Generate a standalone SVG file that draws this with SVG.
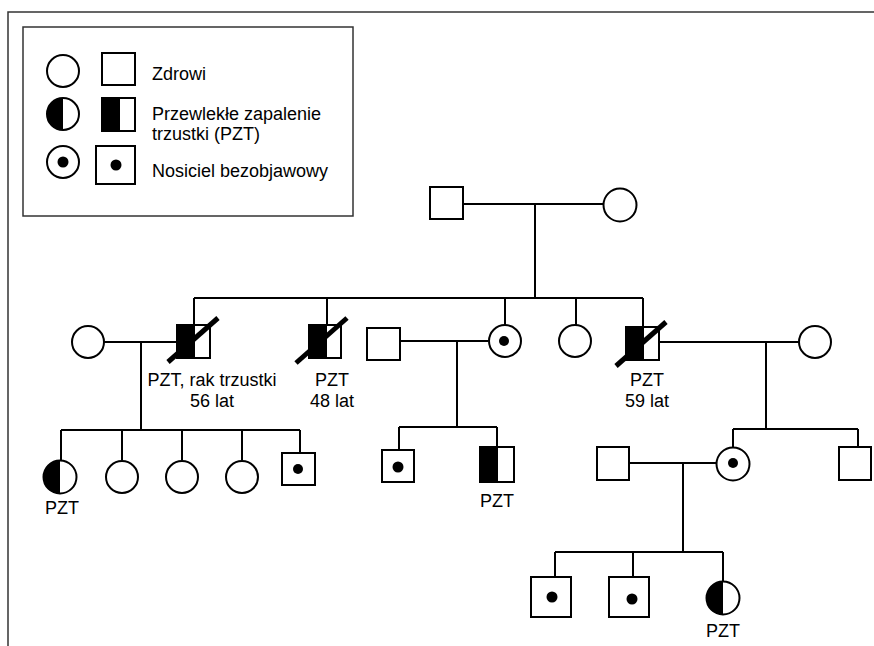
<svg xmlns="http://www.w3.org/2000/svg" width="874" height="646" viewBox="0 0 874 646">
<style>
.sym{fill:#fff;stroke:#000;stroke-width:2}
.ln{fill:none;stroke:#000;stroke-width:2}
.blk{fill:#000;stroke:none}
.sl{stroke:#000;stroke-width:5;fill:none}
text{font-family:"Liberation Sans",Arial,sans-serif;font-size:18px;fill:#000}
.c{text-anchor:middle}
</style>
<rect width="874" height="646" fill="#fff"/>
<path d="M8,646 V12 H874" fill="none" stroke="#333" stroke-width="1.5"/>
<g id="legend">
<rect x="23" y="27" width="330" height="189" fill="#fff" stroke="#333" stroke-width="1.5"/>
<circle class="sym" cx="63" cy="71" r="16"/>
<rect class="sym" x="102" y="53" width="33" height="32"/>
<text x="152" y="80">Zdrowi</text>
<circle class="sym" cx="63" cy="114" r="16"/>
<path class="blk" d="M63,98 A16,16 0 0 0 63,130 Z"/>
<rect class="sym" x="102" y="98" width="33" height="33"/>
<rect class="blk" x="102" y="98" width="18" height="33"/>
<rect x="102" y="98" width="33" height="33" fill="none" stroke="#000" stroke-width="2"/>
<text x="152" y="120">Przewlekłe zapalenie</text>
<text x="152" y="140">trzustki (PZT)</text>
<circle class="sym" cx="63" cy="162" r="16"/>
<circle class="blk" cx="63" cy="162" r="5.5"/>
<rect class="sym" x="96" y="146" width="39" height="38"/>
<circle class="blk" cx="116" cy="165" r="5.5"/>
<text x="152" y="177">Nosiciel bezobjawowy</text>
</g>
<g id="connectors">
<path class="ln" d="M463,204 H603 M535,204 V298 M194,298 H643 M194,298 V325 M327,298 V325 M505,298 V325 M576,298 V325 M643,298 V327"/>
<path class="ln" d="M104,342 H176 M141,342 V430 M61,430 H300 M61,430 V460 M122,430 V460 M182,430 V460 M242,430 V460 M300,430 V453"/>
<path class="ln" d="M400,341 H488 M457,341 V427 M399,427 H497 M399,427 V450 M497,427 V447"/>
<path class="ln" d="M659,342 H799 M766,342 V429 M733,429 H858 M733,429 V447 M858,429 V447"/>
<path class="ln" d="M629,463 H716 M683,463 V552 M555,552 H723 M555,552 V577 M633,552 V577 M723,552 V582"/>
</g>
<g id="g1-father"><rect class="sym" x="430" y="187" width="33" height="32"/></g>
<g id="g1-mother"><circle class="sym" cx="620" cy="205" r="16.5"/></g>
<g id="g2-wife1"><circle class="sym" cx="88" cy="342" r="16"/></g>
<g id="g2-son1">
<rect class="sym" x="177" y="325" width="33" height="33"/>
<rect class="blk" x="177" y="325" width="18" height="33"/>
<rect x="177" y="325" width="33" height="33" fill="none" stroke="#000" stroke-width="2"/>
<line class="sl" x1="168" y1="362" x2="218" y2="318"/>
<text class="c" x="212" y="386">PZT, rak trzustki</text>
<text class="c" x="212" y="407">56 lat</text>
</g>
<g id="g2-son2">
<rect class="sym" x="309" y="325" width="32" height="33"/>
<rect class="blk" x="309" y="325" width="18" height="33"/>
<rect x="309" y="325" width="32" height="33" fill="none" stroke="#000" stroke-width="2"/>
<line class="sl" x1="296" y1="363" x2="347" y2="318"/>
<text class="c" x="332" y="386">PZT</text>
<text class="c" x="332" y="407">48 lat</text>
</g>
<g id="g2-husband"><rect class="sym" x="367" y="328" width="33" height="32"/></g>
<g id="g2-daughter1">
<circle class="sym" cx="505" cy="341" r="16"/>
<circle class="blk" cx="504" cy="341" r="5"/>
</g>
<g id="g2-daughter2"><circle class="sym" cx="575" cy="341" r="16"/></g>
<g id="g2-son3">
<rect class="sym" x="626" y="327" width="33" height="33"/>
<rect class="blk" x="626" y="327" width="18" height="33"/>
<rect x="626" y="327" width="33" height="33" fill="none" stroke="#000" stroke-width="2"/>
<line class="sl" x1="616" y1="366" x2="666" y2="322"/>
<text class="c" x="647" y="386">PZT</text>
<text class="c" x="647" y="407">59 lat</text>
</g>
<g id="g2-wife3"><circle class="sym" cx="815" cy="342" r="16"/></g>
<g id="g3-a1">
<circle class="sym" cx="60" cy="477" r="16.5"/>
<path class="blk" d="M60,460.5 A16.5,16.5 0 0 0 60,493.5 Z"/>
<text class="c" x="62" y="514">PZT</text>
</g>
<g id="g3-a2"><circle class="sym" cx="122" cy="477" r="16"/></g>
<g id="g3-a3"><circle class="sym" cx="182" cy="477" r="16"/></g>
<g id="g3-a4"><circle class="sym" cx="242" cy="477" r="16"/></g>
<g id="g3-a5">
<rect class="sym" x="282" y="453" width="33" height="32"/>
<circle class="blk" cx="298" cy="469" r="5"/>
</g>
<g id="g3-b1">
<rect class="sym" x="382" y="450" width="32" height="32"/>
<circle class="blk" cx="398" cy="467" r="5.5"/>
</g>
<g id="g3-b2">
<rect class="sym" x="480" y="447" width="34" height="35"/>
<rect class="blk" x="480" y="447" width="18" height="35"/>
<rect x="480" y="447" width="34" height="35" fill="none" stroke="#000" stroke-width="2"/>
<text class="c" x="497" y="507">PZT</text>
</g>
<g id="g3-c-husband"><rect class="sym" x="597" y="447" width="32" height="33"/></g>
<g id="g3-c1">
<circle class="sym" cx="733" cy="464" r="16.5"/>
<circle class="blk" cx="733" cy="463" r="5"/>
</g>
<g id="g3-c2"><rect class="sym" x="839" y="447" width="32" height="33"/></g>
<g id="g4-1">
<rect class="sym" x="531" y="577" width="40" height="40"/>
<circle class="blk" cx="552" cy="597" r="5.5"/>
</g>
<g id="g4-2">
<rect class="sym" x="609" y="577" width="40" height="40"/>
<circle class="blk" cx="632" cy="599" r="5.5"/>
</g>
<g id="g4-3">
<circle class="sym" cx="723" cy="598" r="16.5"/>
<path class="blk" d="M723,581.5 A16.5,16.5 0 0 0 723,614.5 Z"/>
<text class="c" x="723" y="637">PZT</text>
</g>
</svg>
